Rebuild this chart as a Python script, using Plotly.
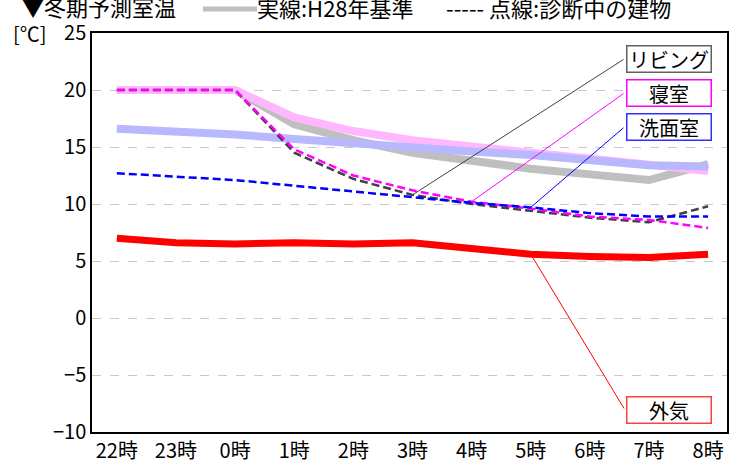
import plotly.graph_objects as go

hours = ["22時", "23時", "0時", "1時", "2時", "3時", "4時", "5時", "6時", "7時", "8時"]

# H28 standard (solid)
h28_living = [20, 20, 20, 17.0, 15.6, 14.5, 13.8, 13.1, 12.6, 12.1, 13.5]
h28_bedroom = [20, 20, 20, 17.6, 16.4, 15.6, 15.0, 14.5, 14.0, 13.5, 12.9]
h28_wash = [16.6, 16.4, 16.1, 15.7, 15.3, 15.0, 14.6, 14.3, 13.9, 13.4, 13.3]

# building under diagnosis (dashed)
diag_living = [20, 20, 20, 14.5, 12.2, 10.8, 10.0, 9.4, 8.8, 8.4, 9.8]
diag_bedroom = [20, 20, 20, 14.8, 12.5, 11.2, 10.2, 9.6, 8.9, 8.6, 7.9]
diag_wash = [12.7, 12.4, 12.1, 11.6, 11.1, 10.6, 10.1, 9.7, 9.2, 8.9, 8.9]

outside = [7.0, 6.6, 6.5, 6.6, 6.5, 6.6, 6.1, 5.6, 5.4, 5.3, 5.6]

yticks = [-10, -5, 0, 5, 10, 15, 20, 25]

FONT = "Noto Sans CJK JP"
W, H = 729, 462
ML, MR, MT, MB = 92, 2, 33, 30
XR = [-0.42, 10.32]
YR = [-10, 25]

fig = go.Figure()

def add(y, color, width, dash=None):
    fig.add_trace(go.Scatter(x=hours, y=y, mode="lines",
                             line=dict(color=color, width=width, dash=dash),
                             showlegend=False, hoverinfo="skip"))

add(h28_living, "#bfbfbf", 8)
add(h28_bedroom, "#ffb8ff", 8)
add(h28_wash, "#b8b8ff", 8)
add(diag_living, "#404040", 2.5, "8px,4px")
add(diag_bedroom, "#ff00ff", 2.5, "8px,4px")
add(diag_wash, "#0000ff", 2.5, "8px,4px")
add(outside, "#ff0000", 7)

def pap_x(px):
    return (px - ML) / (W - ML - MR)

def pap_y(py):
    return (H - MB - py) / (H - MT - MB)

def data_x(px):
    return XR[0] + pap_x(px) * (XR[1] - XR[0])

def data_y(py):
    return YR[0] + pap_y(py) * (YR[1] - YR[0])

def label(text, xcat, yv, box_cy, border, linecolor):
    # leader line from box's left edge to the data point
    fig.add_annotation(x=xcat, y=yv, xref="x", yref="y",
                       ax=data_x(625), ay=data_y(box_cy), axref="x", ayref="y",
                       text="", showarrow=True, arrowhead=0,
                       arrowwidth=1, arrowcolor=linecolor)
    # box
    fig.add_annotation(x=pap_x(669), y=pap_y(box_cy), xref="paper", yref="paper",
                       text=text, showarrow=False, xanchor="center", yanchor="middle",
                       font=dict(family=FONT, size=20, color="black"),
                       bgcolor="white", bordercolor=border, borderwidth=1.5,
                       width=83, height=25, borderpad=0)

label("リビング", hours[5], diag_living[5], 58.5, "#606060", "#404040")
label("寝室", hours[6], diag_bedroom[6], 92.5, "#ff00ff", "#ff00ff")
label("洗面室", hours[7], diag_wash[7], 126.5, "#3030ff", "#0000ff")
label("外気", hours[7], outside[7], 410, "#ff4040", "#ff0000")

fig.update_layout(
    width=W, height=H,
    margin=dict(l=ML, r=MR, t=MT, b=MB),
    paper_bgcolor="white", plot_bgcolor="white",
    xaxis=dict(type="category", range=XR, showgrid=False,
               showline=True, linecolor="black", linewidth=1.5, mirror=True,
               ticks="", automargin=False,
               tickfont=dict(family=FONT, size=20, color="black")),
    yaxis=dict(range=YR, tickvals=yticks, showgrid=True,
               gridcolor="#c8c8c8", griddash="dash", gridwidth=1,
               showline=True, linecolor="black", linewidth=1.5, mirror=True,
               ticks="", zeroline=False, automargin=False,
               tickfont=dict(family=FONT, size=20, color="black")),
)

hdr = dict(family=FONT, size=22, color="black")
fig.add_annotation(x=pap_x(20), y=pap_y(6), xref="paper", yref="paper",
                   text="▼冬期予測室温", showarrow=False, xanchor="left", yanchor="middle",
                   font=hdr)
fig.add_shape(type="line", xref="paper", yref="paper",
              x0=pap_x(203), x1=pap_x(257), y0=pap_y(9), y1=pap_y(9),
              line=dict(color="#bfbfbf", width=5))
fig.add_annotation(x=pap_x(255), y=pap_y(7), xref="paper", yref="paper",
                   text="実線:H28年基準", showarrow=False, xanchor="left", yanchor="middle",
                   font=hdr)
fig.add_annotation(x=pap_x(444), y=pap_y(7), xref="paper", yref="paper",
                   text="----- 点線:診断中の建物", showarrow=False, xanchor="left", yanchor="middle",
                   font=hdr)
fig.add_annotation(x=pap_x(11), y=pap_y(33), xref="paper", yref="paper",
                   text="[℃]", showarrow=False, xanchor="left", yanchor="middle",
                   font=dict(family=FONT, size=20, color="black"))

fig.write_html("out.html",
               config={"displayModeBar": False},
               post_script="document.body.style.margin='0';document.body.style.overflow='hidden';")
